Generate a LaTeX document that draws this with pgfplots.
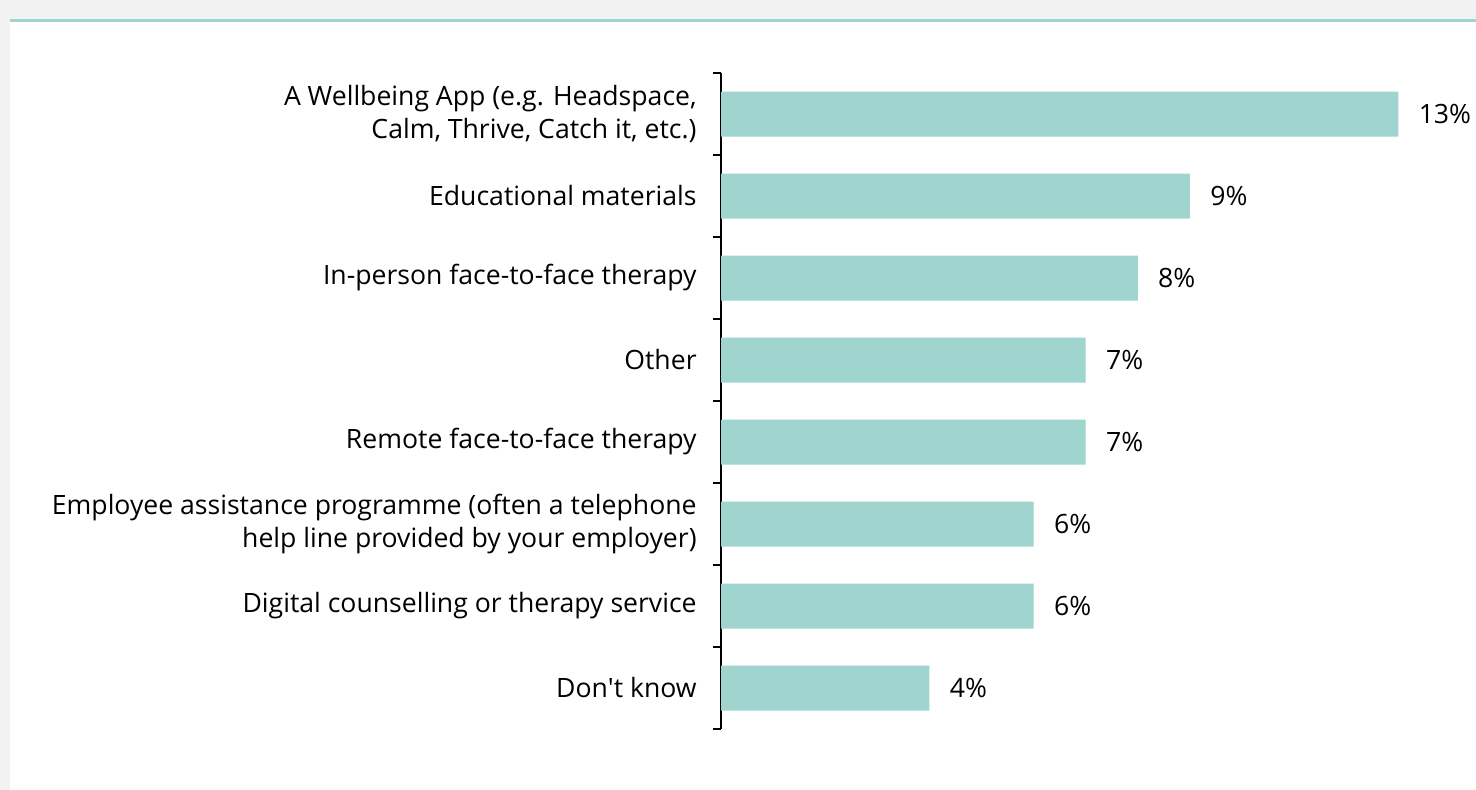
\documentclass[border=0pt]{standalone}
\usepackage{pgfplots}
\pgfplotsset{compat=1.18}
\usepackage{fontspec}
\setmainfont{Open Sans}
\definecolor{bgray}{RGB}{242,242,242}
\definecolor{tealline}{RGB}{160,213,207}
\definecolor{barteal}{RGB}{159,212,207}
\begin{document}
\begin{tikzpicture}
\fill[bgray] (0,0) rectangle (738pt,395pt);
\fill[white] (5pt,0) rectangle (738pt,384pt);
\fill[tealline] (5pt,384pt) rectangle (738pt,385.5pt);
\begin{axis}[
  at={(360.5pt,30.5pt)}, anchor=south west,
  scale only axis, width=377.5pt, height=328pt,
  xmin=0, xmax=14.49,
  ymin=-0.5, ymax=7.5, y dir=reverse,
  hide x axis,
  axis y line*=left,
  y axis line style={black, line width=0.75pt, -},
  ytick={0,...,7},
  yticklabels={{A Wellbeing App (e.g. Headspace,\\Calm, Thrive, Catch it, etc.)},
    {Educational materials},
    {In-person face-to-face therapy},
    {Other},
    {Remote face-to-face therapy},
    {Employee assistance programme (often a telephone\\help line provided by your employer)},
    {Digital counselling or therapy service},
    {Don\textquotesingle t know}},
  major tick length=0pt,
  minor ytick={-0.5,0.5,...,7.5},
  minor tick length=4pt,
  tick align=outside,
  minor tick style={black, line width=0.75pt},
  yticklabel style={font=\fontsize{13.3}{16.2}\selectfont, align=right, anchor=east, inner sep=0pt, xshift=-12pt},
  xbar, bar width=22.5pt, bar shift=0pt,
  clip=false,
  point meta=x,
  /pgf/number format/assume math mode=true,
  nodes near coords={\pgfmathprintnumber{\pgfplotspointmeta}\%},
  nodes near coords style={font=\fontsize{13.3}{16}\selectfont, anchor=west, inner sep=0pt, xshift=10pt},
]
\addplot[fill=barteal, draw=none] coordinates {
  (13,0) (9,1) (8,2) (7,3) (7,4) (6,5) (6,6) (4,7)
};
\end{axis}
\end{tikzpicture}
\end{document}
